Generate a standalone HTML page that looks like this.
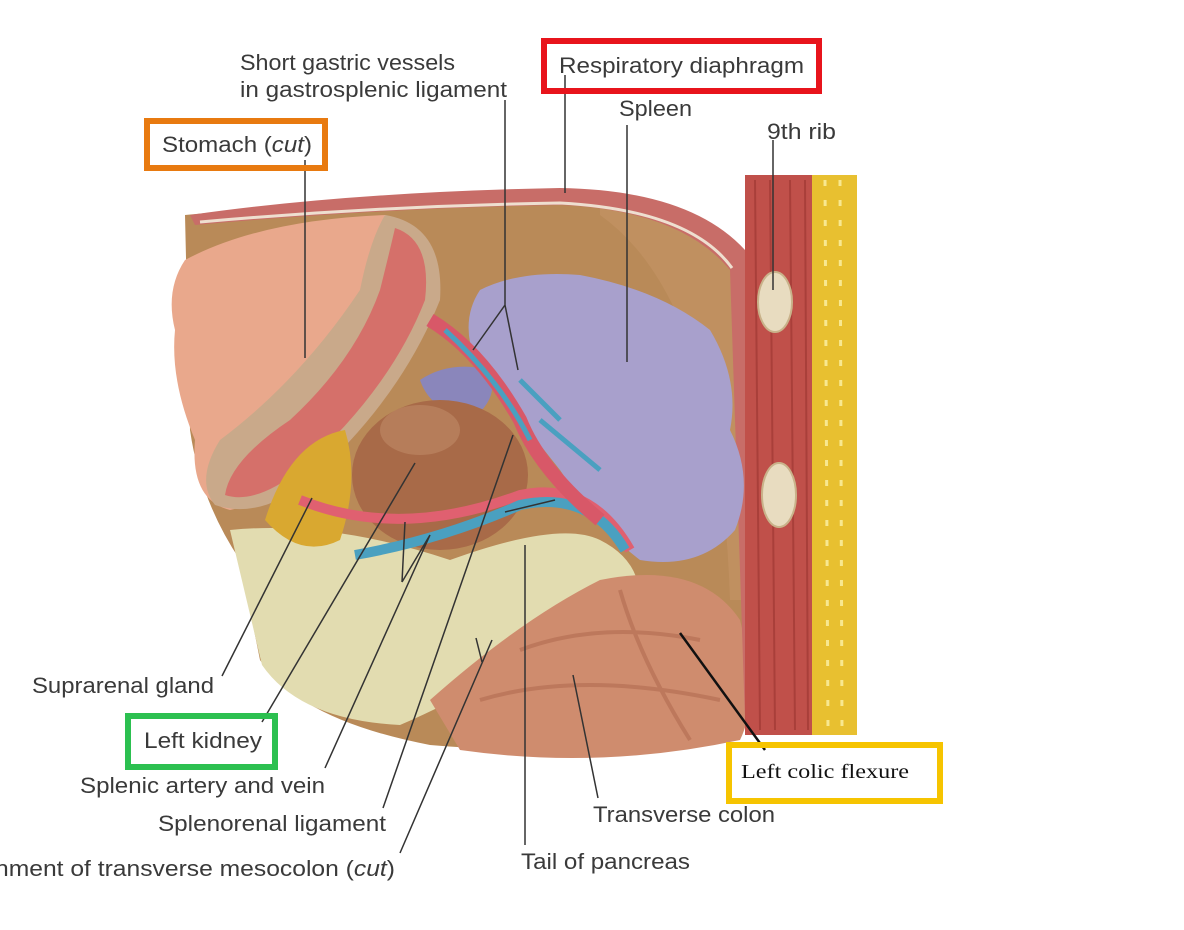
<!DOCTYPE html>
<html><head><meta charset="utf-8"><style>
html,body{margin:0;padding:0;background:#fff;}
svg{display:block;}
text{font-family:"Liberation Sans",sans-serif;font-size:22px;fill:#3a3a3a;}
</style></head><body>
<svg width="1184" height="930" viewBox="0 0 1184 930" xmlns="http://www.w3.org/2000/svg">
<!-- cavity background -->
<path d="M185,215 Q400,195 560,195 Q700,200 740,260 L755,720 Q600,760 430,745 Q300,720 260,660 L240,560 Q200,500 190,430 Z" fill="#b98a58"/>
<path d="M600,195 Q700,200 740,260 L755,600 L730,600 Q720,300 600,215 Z" fill="#c09060"/>
<!-- fat -->
<path d="M230,530 Q330,520 450,560 Q560,520 600,540 Q640,560 640,600 L560,640 Q460,700 400,725 Q300,720 262,665 Z" fill="#e2dcb0"/>
<!-- colon -->
<path d="M430,700 Q520,620 600,580 Q700,560 740,620 Q760,700 740,740 Q600,770 460,750 Z" fill="#cf8c6e"/>
<path d="M520,650 Q600,620 700,640 M480,700 Q580,670 720,700 M620,590 Q640,660 690,740" stroke="#b06a50" stroke-width="4" fill="none" opacity=".6"/>
<!-- diaphragm band -->
<path d="M190,215 Q350,192 560,188 Q690,190 745,250 L760,720 L745,720 L730,270 Q680,210 560,205 Q380,208 195,225 Z" fill="#c86d68"/>
<path d="M200,222 Q380,206 560,203 Q690,210 732,268" stroke="#eedfd0" stroke-width="3" fill="none"/>
<!-- rib wall -->
<rect x="745" y="175" width="70" height="560" fill="#c0504a"/>
<path d="M755,180 L760,730 M770,180 L775,730 M790,180 L795,730 M805,180 L808,730" stroke="#9a3530" stroke-width="2" opacity=".6"/>
<rect x="812" y="175" width="45" height="560" fill="#e8c030"/>
<path d="M825,180 L828,730 M840,180 L842,730" stroke="#f8e890" stroke-width="3" stroke-dasharray="6 14"/>
<ellipse cx="775" cy="302" rx="17" ry="30" fill="#e8dcc0" stroke="#c9b28a" stroke-width="2"/>
<ellipse cx="779" cy="495" rx="17" ry="32" fill="#e8dcc0" stroke="#c9b28a" stroke-width="2"/>
<!-- stomach outer -->
<path d="M185,260 Q260,220 385,215 Q440,230 435,290 Q410,370 340,430 Q280,500 230,510 Q190,500 195,440 Q170,380 175,330 Q165,290 185,260 Z" fill="#e9a88c"/>
<path d="M385,215 Q445,225 440,300 Q400,400 310,480 Q260,520 215,505 Q195,480 220,440 Q300,380 360,290 Q370,240 385,215 Z" fill="#c9a98a"/>
<path d="M395,228 Q432,240 425,300 Q390,390 300,470 Q255,505 225,495 Q230,460 290,420 Q355,360 380,290 Q390,250 395,228 Z" fill="#d5706a"/>
<!-- spleen -->
<path d="M480,290 Q520,270 580,275 Q660,290 710,330 Q740,380 730,430 Q755,480 735,530 Q700,570 640,560 Q600,530 560,470 Q520,420 475,360 Q460,320 480,290 Z" fill="#a8a0cc"/>
<path d="M420,380 Q450,360 490,370 Q500,400 470,420 Q430,410 420,380 Z" fill="#8a86bb"/>
<!-- kidney -->
<ellipse cx="440" cy="475" rx="88" ry="75" fill="#a86a48"/>
<ellipse cx="420" cy="430" rx="40" ry="25" fill="#c08a68" opacity=".6"/>
<!-- suprarenal -->
<path d="M265,520 Q290,440 345,430 Q360,480 340,540 Q300,560 265,520 Z" fill="#d9a830"/>
<!-- vessels -->
<path d="M300,500 Q400,540 520,495 Q590,480 630,550" stroke="#e06070" stroke-width="10" fill="none"/>
<path d="M355,555 Q440,540 520,505 Q590,490 625,550" stroke="#4aa0c0" stroke-width="10" fill="none"/>
<path d="M430,320 Q480,350 520,420 Q540,470 600,520" stroke="#d85868" stroke-width="14" fill="none"/>
<path d="M445,330 Q500,380 530,440 M540,420 L600,470 M520,380 L560,420" stroke="#4aa0c0" stroke-width="5" fill="none"/>
<!-- leader lines -->
<g stroke="#333" stroke-width="1.5" fill="none">
<path d="M305,160 L305,358"/>
<path d="M505,100 L505,305 L473,350 M505,305 L518,370"/>
<path d="M565,75 L565,193"/>
<path d="M627,125 L627,362"/>
<path d="M773,140 L773,290"/>
<path d="M222,676 L312,498"/>
<path d="M262,722 L415,463"/>
<path d="M325,768 L430,535 M402,582 L405,522 M402,582 L430,535"/>
<path d="M383,808 L513,435"/>
<path d="M505,512 L555,500"/>
<path d="M400,853 L492,640 M482,662 L476,638"/>
<path d="M525,845 L525,545"/>
<path d="M598,798 L573,675"/>
</g>
<path d="M765,750 L680,633" stroke="#111" stroke-width="2.5"/>
<!-- labels -->
<text x="240" y="70" textLength="215" lengthAdjust="spacingAndGlyphs">Short gastric vessels</text>
<text x="240" y="97" textLength="267" lengthAdjust="spacingAndGlyphs">in gastrosplenic ligament</text>
<text x="559" y="73" textLength="245" lengthAdjust="spacingAndGlyphs">Respiratory diaphragm</text>
<text x="619" y="116" textLength="73" lengthAdjust="spacingAndGlyphs">Spleen</text>
<text x="767" y="139" textLength="69" lengthAdjust="spacingAndGlyphs">9th rib</text>
<text x="162" y="152" textLength="150" lengthAdjust="spacingAndGlyphs">Stomach (<tspan font-style="italic">cut</tspan>)</text>
<text x="32" y="693" textLength="182" lengthAdjust="spacingAndGlyphs">Suprarenal gland</text>
<text x="144" y="748" textLength="118" lengthAdjust="spacingAndGlyphs">Left kidney</text>
<text x="80" y="793" textLength="245" lengthAdjust="spacingAndGlyphs">Splenic artery and vein</text>
<text x="158" y="831" textLength="228" lengthAdjust="spacingAndGlyphs">Splenorenal ligament</text>
<text x="-5" y="876" textLength="400" lengthAdjust="spacingAndGlyphs">hment of transverse mesocolon (<tspan font-style="italic">cut</tspan>)</text>
<text x="521" y="869" textLength="169" lengthAdjust="spacingAndGlyphs">Tail of pancreas</text>
<text x="593" y="822" textLength="182" lengthAdjust="spacingAndGlyphs">Transverse colon</text>
<text x="741" y="778" textLength="168" lengthAdjust="spacingAndGlyphs" style="font-family:'Liberation Serif',serif;fill:#111;font-size:20px">Left colic flexure</text>
<!-- boxes -->
<rect x="544" y="41" width="275" height="50" fill="none" stroke="#e8141c" stroke-width="6"/>
<rect x="147" y="121" width="178" height="47" fill="none" stroke="#e87a10" stroke-width="6"/>
<rect x="128" y="716" width="147" height="51" fill="none" stroke="#2cc050" stroke-width="6"/>
<rect x="729" y="745" width="211" height="56" fill="none" stroke="#f6c400" stroke-width="6"/>
</svg>
</body></html>
